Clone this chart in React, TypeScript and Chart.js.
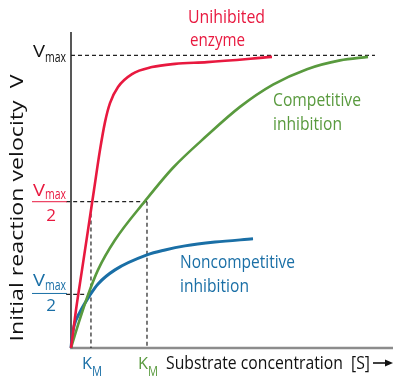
import React, { useEffect, useRef } from "react";
import { Chart, registerables } from "chart.js";

Chart.register(...registerables);

const RED = "#e8193f";
const GREEN = "#599a3e";
const BLUE = "#1a6fa6";
const FONT = '"Open Sans", Lato, sans-serif';

// Substrate concentration [S] (arbitrary units) and velocity V (fraction of Vmax)
const uninhibitedS = [0, 0.155, 0.342, 0.528, 0.714, 0.901, 1.056, 1.211, 1.46, 1.894, 2.516, 3.23, 4.224, 6.242];
const uninhibitedV = [0, 0.13, 0.267, 0.403, 0.54, 0.677, 0.772, 0.837, 0.892, 0.936, 0.96, 0.971, 0.977, 0.995];

const competitiveS = [0, 0.248, 0.528, 0.839, 1.366, 2.298, 3.168, 4.224, 5.248, 6.273, 7.329, 8.354, 9.224];
const competitiveV = [0, 0.089, 0.181, 0.267, 0.369, 0.502, 0.616, 0.726, 0.824, 0.9, 0.953, 0.983, 0.995];

const noncompetitiveS = [0, 0.031, 0.093, 0.28, 0.59, 0.839, 1.366, 2.36, 2.919, 3.54, 4.472, 5.652];
const noncompetitiveV = [0, 0.034, 0.075, 0.123, 0.181, 0.219, 0.267, 0.318, 0.335, 0.349, 0.362, 0.373];

// Reference values
const VMAX = 1;
const HALF_VMAX = 0.5;
const NONCOMP_HALF = 0.183;
const KM = 0.62;
const KM_COMPETITIVE = 2.36;
const VMAX_LINE_END = 9.44;
const TICK_START = -0.15;
const S_MAX = 10;
const V_TOP = 1.08;

const pts = (xs: number[], ys: number[]) => xs.map((x, i) => ({ x, y: ys[i] }));

function txt(
  ctx: CanvasRenderingContext2D,
  s: string,
  x: number,
  y: number,
  color: string,
  size: number,
  opts: { align?: "left" | "center" | "right"; width?: number } = {}
) {
  ctx.save();
  ctx.font = `${size}px ${FONT}`;
  ctx.fillStyle = color;
  ctx.textBaseline = "alphabetic";
  ctx.textAlign = "left";
  const w = ctx.measureText(s).width;
  const sx = opts.width ? opts.width / w : 1;
  const dw = w * sx;
  let left = x;
  if (opts.align === "center") left = x - dw / 2;
  else if (opts.align === "right") left = x - dw;
  ctx.translate(left, y);
  ctx.scale(sx, 1);
  ctx.fillText(s, 0, 0);
  ctx.restore();
  return dw;
}

function hline(ctx: CanvasRenderingContext2D, x1: number, x2: number, y: number, color: string, w: number) {
  ctx.save();
  ctx.strokeStyle = color;
  ctx.lineWidth = w;
  ctx.beginPath();
  ctx.moveTo(x1, y);
  ctx.lineTo(x2, y);
  ctx.stroke();
  ctx.restore();
}

const annotations = {
  id: "annotations",
  beforeDatasetsDraw(chart: any) {
    const { ctx, chartArea: a } = chart;
    ctx.save();
    ctx.strokeStyle = "#8c8c8c";
    ctx.lineWidth = 2.5;
    ctx.beginPath();
    ctx.moveTo(a.left - 1, a.bottom);
    ctx.lineTo(a.right, a.bottom);
    ctx.stroke();
    ctx.strokeStyle = "#111";
    ctx.lineWidth = 1.4;
    ctx.beginPath();
    ctx.moveTo(a.left, a.top);
    ctx.lineTo(a.left, a.bottom);
    ctx.stroke();
    ctx.restore();
  },
  afterDatasetsDraw(chart: any) {
    const ctx: CanvasRenderingContext2D = chart.ctx;
    const xs = chart.scales.x;
    const ys = chart.scales.y;

    // Vmax label
    const yVmax = ys.getPixelForValue(VMAX);
    txt(ctx, "V", 33, yVmax + 2, "#111", 17, { width: 12 });
    txt(ctx, "max", 45, yVmax + 7, "#111", 14, { width: 21 });

    // Vmax/2 (red)
    const yHalf = ys.getPixelForValue(HALF_VMAX);
    txt(ctx, "V", 33, yHalf - 6, RED, 17, { width: 12 });
    txt(ctx, "max", 45, yHalf - 3, RED, 14, { width: 21 });
    hline(ctx, 32, 67, yHalf, RED, 1);
    txt(ctx, "2", 51, yHalf + 19, RED, 17, { align: "center" });

    // Vmax/2 (blue, noncompetitive)
    const yHalfN = ys.getPixelForValue(NONCOMP_HALF) - 1;
    txt(ctx, "V", 33, yHalfN - 7, BLUE, 17, { width: 12 });
    txt(ctx, "max", 45, yHalfN - 3, BLUE, 14, { width: 21 });
    hline(ctx, 32, 67, yHalfN, BLUE, 1);
    txt(ctx, "2", 51, yHalfN + 18, BLUE, 17, { align: "center" });

    // K_M labels
    const xKm = xs.getPixelForValue(KM);
    txt(ctx, "K", xKm - 9, 369, BLUE, 17, { width: 10 });
    txt(ctx, "M", xKm + 1, 376, BLUE, 14, { width: 10 });
    const xKc = xs.getPixelForValue(KM_COMPETITIVE);
    txt(ctx, "K", xKc - 9, 369, GREEN, 17, { width: 10 });
    txt(ctx, "M", xKc + 1, 376, GREEN, 14, { width: 10 });

    // x axis title + arrow
    txt(ctx, "Substrate concentration  [S]", 166, 369, "#111", 18, { width: 204 });
    ctx.save();
    ctx.strokeStyle = "#111";
    ctx.fillStyle = "#111";
    ctx.lineWidth = 1.6;
    ctx.beginPath();
    ctx.moveTo(373, 363);
    ctx.lineTo(388, 363);
    ctx.stroke();
    ctx.beginPath();
    ctx.moveTo(385, 359.5);
    ctx.lineTo(393, 363);
    ctx.lineTo(385, 366.5);
    ctx.closePath();
    ctx.fill();
    ctx.restore();

    // y axis title
    ctx.save();
    ctx.translate(23, 208);
    ctx.rotate(-Math.PI / 2);
    txt(ctx, "Initial reaction velocity  V", 0, 0, "#111", 18, { align: "center", width: 267 });
    ctx.restore();

    // curve labels
    txt(ctx, "Unihibited", 188, 23, RED, 18, { width: 77 });
    txt(ctx, "enzyme", 190, 46, RED, 18, { width: 55 });
    txt(ctx, "Competitive", 273, 106, GREEN, 18, { width: 88 });
    txt(ctx, "inhibition", 273, 130, GREEN, 18, { width: 69 });
    txt(ctx, "Noncompetitive", 180, 268, BLUE, 18, { width: 115 });
    txt(ctx, "inhibition", 180, 292, BLUE, 18, { width: 69 });
  },
};

export default function App() {
  const ref = useRef<HTMLCanvasElement | null>(null);

  useEffect(() => {
    document.body.style.margin = "0";
    const canvas = ref.current;
    if (!canvas) return;
    const dash = (data: { x: number; y: number }[]) => ({
      data,
      borderColor: "#222",
      borderWidth: 1.2,
      borderDash: [4, 3],
      pointRadius: 0,
      tension: 0,
      clip: false as any,
      order: 2,
    });
    const curve = (data: { x: number; y: number }[], color: string, width: number) => ({
      data,
      borderColor: color,
      borderWidth: width,
      pointRadius: 0,
      cubicInterpolationMode: "monotone" as const,
      borderCapStyle: "butt" as const,
      clip: false as any,
      order: 1,
    });
    const chart = new Chart(canvas, {
      type: "line",
      data: {
        datasets: [
          curve(pts(uninhibitedS, uninhibitedV), RED, 2.6),
          curve(pts(competitiveS, competitiveV), GREEN, 2.6),
          curve(pts(noncompetitiveS, noncompetitiveV), BLUE, 3),
          dash([{ x: 0, y: VMAX }, { x: VMAX_LINE_END, y: VMAX }]),
          dash([{ x: TICK_START, y: HALF_VMAX }, { x: KM_COMPETITIVE, y: HALF_VMAX }]),
          dash([{ x: KM_COMPETITIVE, y: HALF_VMAX }, { x: KM_COMPETITIVE, y: 0 }]),
          dash([{ x: TICK_START, y: NONCOMP_HALF }, { x: KM, y: NONCOMP_HALF }]),
          dash([{ x: KM, y: HALF_VMAX - 0.04 }, { x: KM, y: 0 }]),
        ] as any,
      },
      options: {
        responsive: false,
        maintainAspectRatio: false,
        devicePixelRatio: 1,
        animation: false,
        layout: { padding: { left: 71, right: 9, top: 32, bottom: 32 } },
        scales: {
          x: { type: "linear", min: 0, max: S_MAX, display: false },
          y: { type: "linear", min: 0, max: V_TOP, display: false },
        },
        plugins: {
          legend: { display: false },
          tooltip: { enabled: false },
        },
        events: [],
      },
      plugins: [annotations],
    });
    return () => chart.destroy();
  }, []);

  return (
    <div style={{ width: 402, height: 380, background: "#fff" }}>
      <canvas ref={ref} width={402} height={380} style={{ display: "block" }} />
    </div>
  );
}
